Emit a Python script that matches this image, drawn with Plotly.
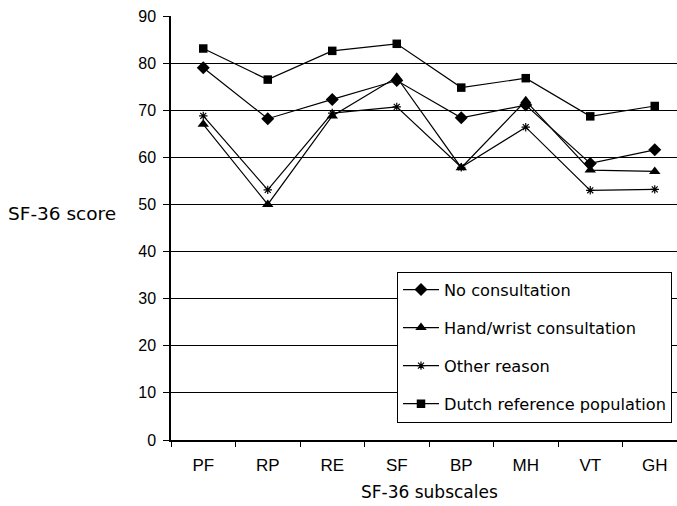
import plotly.graph_objects as go

categories = ["PF", "RP", "RE", "SF", "BP", "MH", "VT", "GH"]
no_consultation = [79.0, 68.2, 72.3, 76.3, 68.4, 71.1, 58.7, 61.6]
hand_wrist = [67.0, 50.0, 68.8, 77.0, 57.8, 72.0, 57.3, 57.0]
other_reason = [68.8, 53.1, 69.4, 70.7, 57.9, 66.4, 53.0, 53.2]
dutch_reference = [83.1, 76.5, 82.6, 84.1, 74.8, 76.8, 68.7, 70.9]

series = [
    ("No consultation", no_consultation, "diamond", 10),
    ("Hand/wrist consultation", hand_wrist, "triangle-up", 10),
    ("Other reason", other_reason, "asterisk-open", 7),
    ("Dutch reference population", dutch_reference, "square", 8.5),
]

fig = go.Figure()
for i, (name, vals, sym, size) in enumerate(series):
    marker = dict(symbol=sym, size=size, color="black")
    if sym == "asterisk-open":
        marker["line"] = dict(color="black", width=1.2)
    fig.add_trace(go.Scatter(
        x=categories, y=vals, name=name, mode="lines+markers",
        line=dict(color="black", width=1.2), marker=marker,
        legendgroup=f"g{i}",
    ))

W, H = 677, 506
L, R, T, B = 171, 0, 16, 66
PW, PH = W - L - R, H - T - B

fig.update_layout(
    width=W, height=H,
    margin=dict(l=L, r=R, t=T, b=B),
    paper_bgcolor="white", plot_bgcolor="white",
    font=dict(family="DejaVu Sans", color="black", size=16),
    showlegend=True,
    legend=dict(
        x=(397 - L) / PW, y=(440 - 271.5) / PH,
        xanchor="left", yanchor="top",
        bgcolor="white", bordercolor="black", borderwidth=1,
        font=dict(family="DejaVu Sans", size=16.2, color="black"),
        tracegroupgap=14, itemwidth=36,
    ),
    xaxis=dict(
        type="category", categoryorder="array", categoryarray=categories,
        range=[-0.5, 7.345],
        showline=True, linecolor="black", linewidth=1.5,
        ticks="outside", tickson="boundaries", ticklen=5, tickcolor="black",
        ticklabelstandoff=9,
        showgrid=False, zeroline=False,
        tickfont=dict(family="Liberation Sans", size=17, color="black"),
    ),
    yaxis=dict(
        range=[0, 90], dtick=10,
        showline=True, linecolor="black", linewidth=1.5,
        ticks="outside", ticklen=6, tickcolor="black",
        ticklabelstandoff=4,
        showgrid=True, gridcolor="black", gridwidth=1,
        zeroline=False,
        tickfont=dict(family="Liberation Sans", size=16, color="black"),
    ),
    annotations=[
        dict(
            text="SF-36 score", xref="paper", yref="y",
            x=(118 - L) / PW, y=48, xanchor="right", yanchor="middle",
            showarrow=False, font=dict(family="DejaVu Sans", size=18.5, color="black"),
        ),
        dict(
            text="SF-36 subscales", xref="paper", yref="paper",
            x=(429.5 - L) / PW, y=(440 - 492) / PH, xanchor="center", yanchor="middle",
            showarrow=False, font=dict(family="DejaVu Sans", size=17, color="black"),
        ),
    ],
)

fig.write_html("out.html")
